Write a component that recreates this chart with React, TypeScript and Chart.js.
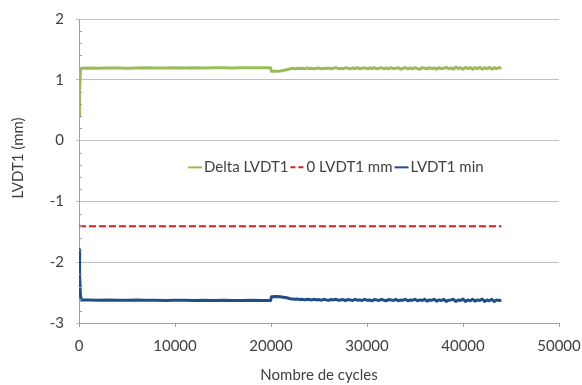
import React, { useEffect, useRef } from "react";
import { Chart, registerables } from "chart.js";

Chart.register(...registerables);

// ---- data ----
const cycles = [
  0, 60, 150, 250,
  1000, 2000, 3000, 4000, 5000, 6000, 7000, 8000, 9000, 10000,
  11000, 12000, 13000, 14000, 15000, 16000, 17000, 18000, 19000,
  19950, 20050, 20500, 21000, 21250,
  21500, 21750, 22000, 22250, 22500, 22750, 23000, 23250, 23500, 23750,
  24000, 24250, 24500, 24750, 25000, 25250, 25500, 25750, 26000, 26250,
  26500, 26750, 27000, 27250, 27500, 27750, 28000, 28250, 28500, 28750,
  29000, 29250, 29500, 29750, 30000, 30250, 30500, 30750, 31000, 31250,
  31500, 31750, 32000, 32250, 32500, 32750, 33000, 33250, 33500, 33750,
  34000, 34250, 34500, 34750, 35000, 35250, 35500, 35750, 36000, 36250,
  36500, 36750, 37000, 37250, 37500, 37750, 38000, 38250, 38500, 38750,
  39000, 39250, 39500, 39750, 40000, 40250, 40500, 40750, 41000, 41250,
  41500, 41750, 42000, 42250, 42500, 42750, 43000, 43250, 43500, 43750,
  44000,
];

const deltaLvdt1 = [
  0.4, 0.8, 1.15, 1.19,
  1.195, 1.19, 1.195, 1.195, 1.19, 1.195, 1.2, 1.195, 1.195, 1.2,
  1.195, 1.2, 1.195, 1.2, 1.2, 1.195, 1.2, 1.2, 1.2,
  1.2, 1.14, 1.14, 1.145, 1.155,
  1.16, 1.17, 1.18, 1.19, 1.18, 1.19, 1.185, 1.19, 1.18, 1.195,
  1.185, 1.19, 1.18, 1.19, 1.195, 1.18, 1.19, 1.185, 1.195, 1.18,
  1.19, 1.2, 1.185, 1.19, 1.18, 1.2, 1.19, 1.18, 1.195, 1.185,
  1.2, 1.18, 1.19, 1.2, 1.18, 1.195, 1.185, 1.2, 1.18, 1.19,
  1.2, 1.18, 1.195, 1.18, 1.2, 1.185, 1.19, 1.2, 1.175, 1.19,
  1.2, 1.18, 1.195, 1.18, 1.2, 1.185, 1.175, 1.2, 1.19, 1.18,
  1.2, 1.185, 1.195, 1.175, 1.2, 1.185, 1.19, 1.205, 1.18, 1.195,
  1.175, 1.21, 1.185, 1.2, 1.175, 1.205, 1.185, 1.2, 1.175, 1.2,
  1.185, 1.205, 1.175, 1.2, 1.18, 1.205, 1.175, 1.2, 1.185, 1.2,
  1.19,
];

const lvdt1Min = [
  -1.79, -2.2, -2.55, -2.62,
  -2.62, -2.625, -2.62, -2.625, -2.625, -2.62, -2.625, -2.625, -2.63, -2.625,
  -2.625, -2.63, -2.625, -2.63, -2.625, -2.63, -2.63, -2.625, -2.63,
  -2.63, -2.57, -2.565, -2.57, -2.575,
  -2.58, -2.59, -2.6, -2.605, -2.61, -2.605, -2.615, -2.61, -2.62, -2.61,
  -2.615, -2.62, -2.61, -2.62, -2.615, -2.625, -2.61, -2.62, -2.625, -2.615,
  -2.62, -2.61, -2.625, -2.62, -2.615, -2.63, -2.615, -2.62, -2.63, -2.61,
  -2.625, -2.62, -2.63, -2.61, -2.625, -2.62, -2.635, -2.615, -2.62, -2.63,
  -2.61, -2.625, -2.635, -2.615, -2.62, -2.63, -2.61, -2.635, -2.62, -2.625,
  -2.61, -2.635, -2.62, -2.625, -2.61, -2.635, -2.62, -2.63, -2.61, -2.64,
  -2.62, -2.625, -2.61, -2.64, -2.62, -2.63, -2.61, -2.645, -2.625, -2.62,
  -2.61, -2.645, -2.62, -2.63, -2.605, -2.645, -2.62, -2.635, -2.61, -2.64,
  -2.62, -2.63, -2.605, -2.645, -2.62, -2.635, -2.61, -2.645, -2.62, -2.63,
  -2.625,
];

const zeroCycles = [0, 44000];
const zeroLvdt1 = [-1.41, -1.41];

const seriesNames = ["Delta LVDT1", "0 LVDT1 mm", "LVDT1 min"];
const seriesColors = ["#9BBB59", "#D9201F", "#1F4E8A"];
const xTicks = [0, 10000, 20000, 30000, 40000, 50000];
const yTicks = [-3, -2, -1, 0, 1, 2];
const xTitle = "Nombre de cycles";
const yTitle = "LVDT1 (mm)";

const FONT = "Lato, 'Open Sans', sans-serif";
const FS = 15;
const TEXT = "#404040";
const GRID = "#BFBFBF";
const AXIS = "#A0A0A0";

const pts = (xs: number[], ys: number[]) => xs.map((x, i) => ({ x, y: ys[i] }));

const overlayPlugin = {
  id: "overlay",
  afterDraw(chart: any) {
    const { ctx, chartArea, scales } = chart;
    const y = scales.y;
    ctx.save();
    // minor ticks on y axis (inside)
    ctx.strokeStyle = AXIS;
    ctx.lineWidth = 1;
    for (let i = 0; i <= 25; i++) {
      const v = yTicks[0] + i * 0.2;
      if (Math.abs(v - Math.round(v)) < 1e-6) continue;
      const py = Math.round(y.getPixelForValue(v)) + 0.5;
      ctx.beginPath();
      ctx.moveTo(chartArea.left, py);
      ctx.lineTo(chartArea.left + 3, py);
      ctx.stroke();
    }
    // y title
    ctx.fillStyle = TEXT;
    ctx.font = `${FS}px ${FONT}`;
    ctx.textAlign = "center";
    ctx.textBaseline = "middle";
    ctx.translate(18, (chartArea.top + chartArea.bottom) / 2 - 13);
    ctx.rotate(-Math.PI / 2);
    ctx.fillText(yTitle, 0, 0);
    ctx.restore();

    // legend inside plot area
    ctx.save();
    ctx.font = `${FS}px ${FONT}`;
    ctx.textBaseline = "middle";
    ctx.textAlign = "left";
    const ly = y.getPixelForValue(-0.44);
    let lx = chartArea.left + 109;
    seriesNames.forEach((name, i) => {
      ctx.strokeStyle = seriesColors[i];
      ctx.lineWidth = 2;
      ctx.setLineDash(i === 1 ? [5, 3] : []);
      ctx.beginPath();
      ctx.moveTo(lx, ly);
      ctx.lineTo(lx + 14, ly);
      ctx.stroke();
      ctx.setLineDash([]);
      lx += 16;
      ctx.fillStyle = TEXT;
      ctx.fillText(name, lx, ly);
      lx += ctx.measureText(name).width + 2;
    });
    ctx.restore();
  },
};

export default function App() {
  const ref = useRef<HTMLCanvasElement | null>(null);
  useEffect(() => {
    if (!ref.current) return;
    const chart = new Chart(ref.current, {
      type: "scatter",
      data: {
        datasets: [
          {
            label: seriesNames[0],
            data: pts(cycles, deltaLvdt1),
            showLine: true,
            borderColor: seriesColors[0],
            borderWidth: 3,
            borderJoinStyle: "round",
            pointRadius: 0,
          },
          {
            label: seriesNames[1],
            data: pts(zeroCycles, zeroLvdt1),
            showLine: true,
            borderColor: seriesColors[1],
            borderWidth: 2,
            borderDash: [7, 3],
            pointRadius: 0,
          },
          {
            label: seriesNames[2],
            data: pts(cycles, lvdt1Min),
            showLine: true,
            borderColor: seriesColors[2],
            borderWidth: 3,
            borderJoinStyle: "round",
            pointRadius: 0,
          },
        ],
      },
      options: {
        responsive: false,
        animation: false,
        layout: { padding: { left: 0, right: 23, top: 19, bottom: 0 } },
        plugins: { legend: { display: false }, tooltip: { enabled: false } },
        scales: {
          x: {
            type: "linear",
            min: xTicks[0],
            max: xTicks[xTicks.length - 1],
            afterBuildTicks: (s: any) => {
              s.ticks = xTicks.map((v) => ({ value: v }));
            },
            afterFit: (s: any) => {
              s.height = 62;
              s.paddingRight = 0;
              s.paddingLeft = 0;
            },
            ticks: {
              callback: (v: any) => String(v),
              color: TEXT,
              font: { family: FONT, size: FS },
              padding: 10,
              maxRotation: 0,
            },
            grid: {
              drawOnChartArea: false,
              drawTicks: true,
              tickLength: 4,
              tickColor: AXIS,
            },
            border: { color: AXIS },
            title: {
              display: true,
              text: xTitle,
              color: TEXT,
              font: { family: FONT, size: FS },
              padding: { top: 0, bottom: 1 },
            },
          },
          y: {
            type: "linear",
            min: yTicks[0],
            max: yTicks[yTicks.length - 1],
            afterBuildTicks: (s: any) => {
              s.ticks = yTicks.map((v) => ({ value: v }));
            },
            afterFit: (s: any) => {
              s.width = 79;
              s.paddingTop = 0;
              s.paddingBottom = 0;
            },
            ticks: {
              callback: (v: any) => String(v),
              color: TEXT,
              font: { family: FONT, size: FS },
              padding: 12,
            },
            grid: {
              color: GRID,
              tickLength: 3,
              tickColor: GRID,
            },
            border: { color: AXIS },
          },
        },
      },
      plugins: [overlayPlugin],
    });
    return () => chart.destroy();
  }, []);
  return (
    <div style={{ position: "fixed", left: 0, top: 0, width: 582, height: 385, background: "#fff" }}>
      <canvas ref={ref} width={582} height={385} />
    </div>
  );
}
